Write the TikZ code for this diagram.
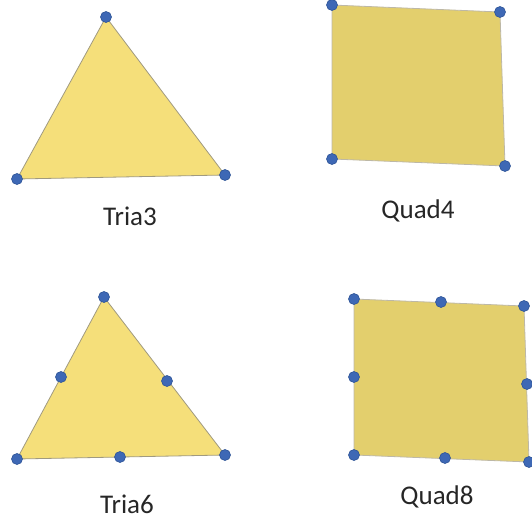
\documentclass[tikz,border=0pt]{standalone}
\usepackage{fontspec}
\setmainfont{Carlito}
\definecolor{triafill}{HTML}{F5DF7A}
\definecolor{quadfill}{HTML}{E3CF6D}
\definecolor{dotblue}{HTML}{3E68B5}
\definecolor{dotedge}{HTML}{2F5597}
\definecolor{edgegray}{HTML}{A09A80}
\begin{document}
\begin{tikzpicture}[x=1pt,y=-1pt,
  tria/.style={fill=triafill,draw=edgegray,line width=0.8pt},
  quad/.style={fill=quadfill,draw=edgegray!70,line width=0.8pt},
  pt/.style={circle,fill=dotblue,draw=dotedge,line width=0.6pt,inner sep=0pt,minimum size=11pt},
  lbl/.style={font=\fontsize{27}{31}\selectfont,text=black!85}]
\useasboundingbox (0,0) rectangle (532,525);
% Tria3
\coordinate (a1) at (106,17);
\coordinate (a2) at (17,179);
\coordinate (a3) at (225,175);
\draw[tria] (a1) -- (a2) -- (a3) -- cycle;
\foreach \p in {a1,a2,a3} \node[pt] at (\p) {};
\node[lbl] (t3) at (130,216) {Tria3};
% Quad4
\coordinate (b1) at (332,5);
\coordinate (b2) at (500,12);
\coordinate (b3) at (505,166);
\coordinate (b4) at (332,159);
\draw[quad] (b1) -- (b2) -- (b3) -- (b4) -- cycle;
\foreach \p in {b1,b2,b3,b4} \node[pt] at (\p) {};
\node[lbl] (q4) at (418,211) {Quad4};
% Tria6
\coordinate (c1) at (104,297);
\coordinate (c2) at (17,459);
\coordinate (c3) at (225,455);
\coordinate (c4) at (61,377);
\coordinate (c5) at (167,381);
\coordinate (c6) at (120,457);
\draw[tria] (c1) -- (c2) -- (c3) -- cycle;
\foreach \p in {c1,c2,c3,c4,c5,c6} \node[pt] at (\p) {};
\node[lbl] (t6) at (127,504) {Tria6};
% Quad8
\coordinate (d1) at (354,299);
\coordinate (d2) at (441,302);
\coordinate (d3) at (524,306);
\coordinate (d4) at (527,384);
\coordinate (d5) at (529,462);
\coordinate (d6) at (445,458);
\coordinate (d7) at (354,455);
\coordinate (d8) at (354,377);
\draw[quad] (d1) -- (d3) -- (d5) -- (d7) -- cycle;
\foreach \p in {d1,d2,d3,d4,d5,d6,d7,d8} \node[pt] at (\p) {};
\node[lbl] (q8) at (437,497) {Quad8};
\end{tikzpicture}
\end{document}
